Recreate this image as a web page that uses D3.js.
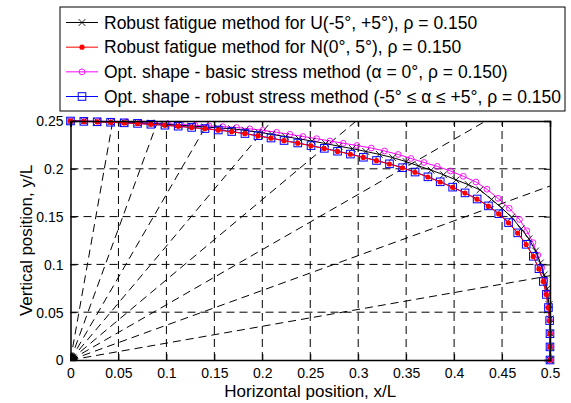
<!DOCTYPE html>
<html>
<head>
<meta charset="utf-8">
<script src="https://cdn.jsdelivr.net/npm/d3@7"></script>
<style>
  html, body { margin: 0; padding: 0; background: #fff; }
  svg { display: block; }
  text { font-family: "Liberation Sans", Arial, Helvetica, sans-serif; fill: #000; }
</style>
</head>
<body>
<svg id="chart" width="571" height="403"></svg>
<script>
// Tick values and labels
const xTicks = [0, 0.05, 0.1, 0.15, 0.2, 0.25, 0.3, 0.35, 0.4, 0.45, 0.5];
const xTickLabels = ["0", "0.05", "0.1", "0.15", "0.2", "0.25", "0.3", "0.35", "0.4", "0.45", "0.5"];
const yTicks = [0, 0.05, 0.1, 0.15, 0.2, 0.25];
const yTickLabels = ["0", "0.05", "0.1", "0.15", "0.2", "0.25"];

// Reference rays from the origin (degrees)
const rayAngles = [10, 20, 30, 40, 50, 60, 70, 80];

// Series names
const seriesNames = [
  "Robust fatigue method for U(-5\u00B0, +5\u00B0), \u03C1 = 0.150",
  "Robust fatigue method for N(0\u00B0, 5\u00B0), \u03C1 = 0.150",
  "Opt. shape - basic stress method (\u03B1 = 0\u00B0, \u03C1 = 0.150)",
  "Opt. shape - robust stress method (-5\u00B0 \u2264 \u03B1 \u2264 +5\u00B0, \u03C1 = 0.150"
];

// Robust fatigue method, uniform angle distribution  [x/L, y/L]
const robustFatigueU = [
  [0.000,0.2500],[0.014,0.2498],[0.028,0.2495],[0.042,0.2491],[0.056,0.2486],[0.070,0.2481],
  [0.084,0.2474],[0.098,0.2466],[0.112,0.2457],[0.126,0.2448],[0.140,0.2438],[0.154,0.2428],
  [0.168,0.2419],[0.182,0.2402],[0.196,0.2383],[0.210,0.2361],[0.224,0.2337],[0.238,0.2314],
  [0.252,0.2290],[0.266,0.2264],[0.280,0.2236],[0.294,0.2211],[0.308,0.2181],[0.322,0.2151],
  [0.336,0.2117],[0.350,0.2075],[0.363,0.2030],[0.376,0.1986],[0.389,0.1938],[0.402,0.1884],
  [0.415,0.1833],[0.427,0.1780],[0.439,0.1680],[0.450,0.1587],[0.460,0.1494],[0.470,0.1372],
  [0.478,0.1268],[0.485,0.1140],[0.490,0.1016],[0.494,0.0890],[0.497,0.0746],[0.499,0.0580],
  [0.500,0.0430],[0.500,0.0280],[0.500,0.0140],[0.500,0.0000]
];

// Robust fatigue method, normal angle distribution
const robustFatigueN = [
  [0.0000,0.2500],[0.0139,0.2495],[0.0278,0.2491],[0.0418,0.2486],[0.0559,0.2480],[0.0699,0.2473],
  [0.0838,0.2465],[0.0984,0.2455],[0.1123,0.2444],[0.1262,0.2431],[0.1401,0.2419],[0.1540,0.2404],
  [0.1680,0.2388],[0.1818,0.2367],[0.1954,0.2344],[0.2090,0.2320],[0.2226,0.2294],[0.2369,0.2268],
  [0.2507,0.2241],[0.2646,0.2212],[0.2784,0.2182],[0.2918,0.2152],[0.3053,0.2119],[0.3190,0.2085],
  [0.3325,0.2050],[0.3462,0.2010],[0.3592,0.1964],[0.3726,0.1914],[0.3854,0.1862],[0.3984,0.1806],
  [0.4113,0.1746],[0.4239,0.1682],[0.4357,0.1610],[0.4465,0.1528],[0.4567,0.1435],[0.4662,0.1328],
  [0.4751,0.1208],[0.4825,0.1083],[0.4884,0.0953],[0.4929,0.0820],[0.4961,0.0684],[0.4983,0.0547],
  [0.4995,0.0410],[0.5000,0.0274],[0.5000,0.0137],[0.5000,0.0000]
];

// Optimal shape, basic stress method
const basicStress = [
  [0.0000,0.2500],[0.0147,0.2499],[0.0291,0.2497],[0.0435,0.2494],[0.0579,0.2490],[0.0723,0.2484],
  [0.0867,0.2478],[0.1011,0.2471],[0.1155,0.2463],[0.1299,0.2456],[0.1443,0.2448],[0.1587,0.2441],
  [0.1732,0.2432],[0.1870,0.2418],[0.2003,0.2403],[0.2149,0.2382],[0.2288,0.2361],[0.2423,0.2338],
  [0.2566,0.2315],[0.2705,0.2291],[0.2844,0.2267],[0.2987,0.2244],[0.3136,0.2217],[0.3274,0.2186],
  [0.3417,0.2150],[0.3550,0.2108],[0.3686,0.2066],[0.3824,0.2025],[0.3962,0.1977],[0.4096,0.1922],
  [0.4228,0.1862],[0.4343,0.1786],[0.4458,0.1691],[0.4575,0.1587],[0.4682,0.1470],[0.4758,0.1352],
  [0.4822,0.1228],[0.4873,0.1098],[0.4913,0.0965],[0.4945,0.0829],[0.4968,0.0692],[0.4985,0.0554],
  [0.4995,0.0416],[0.5000,0.0277],[0.5000,0.0139],[0.5000,0.0000]
];

// Optimal shape, robust stress method
const robustStress = [
  [0.0000,0.2500],[0.0139,0.2496],[0.0278,0.2492],[0.0418,0.2487],[0.0560,0.2481],[0.0699,0.2475],
  [0.0838,0.2466],[0.0985,0.2456],[0.1123,0.2446],[0.1263,0.2433],[0.1402,0.2421],[0.1541,0.2406],
  [0.1681,0.2390],[0.1819,0.2369],[0.1955,0.2346],[0.2091,0.2322],[0.2227,0.2296],[0.2370,0.2270],
  [0.2508,0.2243],[0.2647,0.2214],[0.2785,0.2184],[0.2919,0.2154],[0.3054,0.2121],[0.3191,0.2087],
  [0.3326,0.2052],[0.3463,0.2012],[0.3593,0.1966],[0.3727,0.1916],[0.3855,0.1864],[0.3985,0.1808],
  [0.4114,0.1748],[0.4240,0.1684],[0.4358,0.1612],[0.4466,0.1530],[0.4568,0.1437],[0.4663,0.1330],
  [0.4752,0.1210],[0.4826,0.1085],[0.4885,0.0955],[0.4930,0.0822],[0.4962,0.0686],[0.4984,0.0549],
  [0.4996,0.0412],[0.5000,0.0275],[0.5000,0.0137],[0.5000,0.0000]
];

const svg = d3.select("#chart");
svg.append("rect").attr("width", 571).attr("height", 403).attr("fill", "#fff");

const plot = { left: 70.5, right: 550, top: 121, bottom: 360 };
const x = d3.scaleLinear().domain([0, 0.5]).range([plot.left, plot.right]);
const y = d3.scaleLinear().domain([0, 0.25]).range([plot.bottom, plot.top]);

svg.append("defs").append("clipPath").attr("id", "plotClip")
  .append("rect")
  .attr("x", plot.left).attr("y", plot.top)
  .attr("width", plot.right - plot.left).attr("height", plot.bottom - plot.top);

const dash = "8,5";

// Grid
const grid = svg.append("g").attr("stroke", "#000").attr("stroke-width", 1)
  .attr("stroke-dasharray", dash).attr("fill", "none");
grid.selectAll("line.gx").data(xTicks.slice(1, -1)).join("line")
  .attr("x1", d => x(d)).attr("x2", d => x(d))
  .attr("y1", plot.bottom).attr("y2", plot.top);
grid.selectAll("line.gy").data(yTicks.slice(1, -1)).join("line")
  .attr("x1", plot.left).attr("x2", plot.right)
  .attr("y1", d => y(d)).attr("y2", d => y(d));

// Rays from the origin, clipped to the axes box
const rays = svg.append("g").attr("clip-path", "url(#plotClip)")
  .attr("stroke", "#000").attr("stroke-width", 1).attr("stroke-dasharray", dash);
rays.selectAll("line").data(rayAngles).join("line")
  .attr("x1", x(0)).attr("y1", y(0))
  .attr("x2", d => x(Math.cos(d * Math.PI / 180)))
  .attr("y2", d => y(Math.sin(d * Math.PI / 180)));

// Origin marker
svg.append("circle").attr("clip-path", "url(#plotClip)")
  .attr("cx", x(0)).attr("cy", y(0)).attr("r", 7).attr("fill", "#000");

// Series
const line = d3.line().x(d => x(d[0])).y(d => y(d[1]));
const curves = svg.append("g").attr("fill", "none");

function crossPath(px, py, s) {
  return `M${px - s},${py - s}L${px + s},${py + s}M${px - s},${py + s}L${px + s},${py - s}`;
}

function drawMarkers(g, data, kind, color) {
  if (kind === "x") {
    g.selectAll("path.m").data(data).join("path").attr("class", "m")
      .attr("d", d => crossPath(x(d[0]), y(d[1]), 3.4))
      .attr("stroke", color).attr("stroke-width", 0.9);
  } else if (kind === "dot") {
    g.selectAll("circle.m").data(data).join("circle").attr("class", "m")
      .attr("cx", d => x(d[0])).attr("cy", d => y(d[1])).attr("r", 2.6)
      .attr("fill", color);
  } else if (kind === "o") {
    g.selectAll("circle.m").data(data).join("circle").attr("class", "m")
      .attr("cx", d => x(d[0])).attr("cy", d => y(d[1])).attr("r", 2.9)
      .attr("fill", "none").attr("stroke", color).attr("stroke-width", 0.9);
  } else if (kind === "s") {
    g.selectAll("rect.m").data(data).join("rect").attr("class", "m")
      .attr("x", d => x(d[0]) - 3.8).attr("y", d => y(d[1]) - 3.8)
      .attr("width", 7.6).attr("height", 7.6)
      .attr("fill", "none").attr("stroke", color).attr("stroke-width", 1);
  }
}

const series = [
  { data: basicStress, color: "#ff00ff", kind: "o" },
  { data: robustFatigueU, color: "#000000", kind: "x" },
  { data: robustStress, color: "#0000ff", kind: "s" },
  { data: robustFatigueN, color: "#ff0000", kind: "dot" }
];
series.forEach(s => {
  const g = curves.append("g");
  g.append("path").attr("d", line(s.data)).attr("stroke", s.color).attr("stroke-width", 1);
  drawMarkers(g, s.data, s.kind, s.color);
});

// Axes box with inward ticks
const axes = svg.append("g");
const bottomAxis = d3.axisBottom(x).tickValues(xTicks).tickSize(-6).tickFormat((d, i) => xTickLabels[i]);
const topAxis = d3.axisTop(x).tickValues(xTicks).tickSize(-6).tickFormat("");
const leftAxis = d3.axisLeft(y).tickValues(yTicks).tickSize(-6).tickFormat((d, i) => yTickLabels[i]);
const rightAxis = d3.axisRight(y).tickValues(yTicks).tickSize(-6).tickFormat("");

const gb = axes.append("g").attr("transform", `translate(0,${plot.bottom})`).call(bottomAxis);
const gt = axes.append("g").attr("transform", `translate(0,${plot.top})`).call(topAxis);
const gl = axes.append("g").attr("transform", `translate(${plot.left},0)`).call(leftAxis);
const gr = axes.append("g").attr("transform", `translate(${plot.right},0)`).call(rightAxis);

[gb, gt, gl, gr].forEach(g => {
  g.select(".domain").attr("stroke", "#000").attr("stroke-width", 1.5);
  g.selectAll(".tick line").attr("stroke", "#000").attr("stroke-width", 1);
});
gb.selectAll(".tick text")
  .attr("y", 18).attr("dy", 0)
  .style("font-family", "Liberation Sans, Arial, sans-serif").style("font-size", "14px").attr("fill", "#000");
gl.selectAll(".tick text")
  .attr("x", -7).attr("dy", "0.35em")
  .style("font-family", "Liberation Sans, Arial, sans-serif").style("font-size", "14px").attr("fill", "#000");

// Axis titles
svg.append("text")
  .attr("x", (plot.left + plot.right) / 2).attr("y", 397)
  .attr("text-anchor", "middle").style("font-size", "17px")
  .text("Horizontal position, x/L");
svg.append("text")
  .attr("transform", `translate(31.5,${(plot.top + plot.bottom) / 2}) rotate(-90)`)
  .attr("text-anchor", "middle").style("font-size", "17px")
  .text("Vertical position, y/L");

// Legend
const legend = svg.append("g");
const lg = { left: 60, top: 7, right: 565, bottom: 111 };
legend.append("rect")
  .attr("x", lg.left).attr("y", lg.top)
  .attr("width", lg.right - lg.left).attr("height", lg.bottom - lg.top)
  .attr("fill", "#fff").attr("stroke", "#000").attr("stroke-width", 1);

const legendItems = [
  { name: seriesNames[0], color: "#000000", kind: "x" },
  { name: seriesNames[1], color: "#ff0000", kind: "dot" },
  { name: seriesNames[2], color: "#ff00ff", kind: "o" },
  { name: seriesNames[3], color: "#0000ff", kind: "s" }
];
const rowY = d3.scaleLinear().domain([0, 3]).range([22.5, 96.5]);
legendItems.forEach((it, i) => {
  const cy = rowY(i);
  const g = legend.append("g");
  g.append("line").attr("x1", 66).attr("x2", 98).attr("y1", cy).attr("y2", cy)
    .attr("stroke", it.color).attr("stroke-width", 1);
  const mx = 82;
  if (it.kind === "x") {
    g.append("path").attr("d", crossPath(mx, cy, 3.4)).attr("stroke", it.color).attr("stroke-width", 0.9);
  } else if (it.kind === "dot") {
    g.append("circle").attr("cx", mx).attr("cy", cy).attr("r", 2.6).attr("fill", it.color);
  } else if (it.kind === "o") {
    g.append("circle").attr("cx", mx).attr("cy", cy).attr("r", 2.9)
      .attr("fill", "none").attr("stroke", it.color).attr("stroke-width", 0.9);
  } else {
    g.append("rect").attr("x", mx - 3.8).attr("y", cy - 3.8).attr("width", 7.6).attr("height", 7.6)
      .attr("fill", "none").attr("stroke", it.color).attr("stroke-width", 1);
  }
  g.append("text").attr("x", 104).attr("y", cy + 6)
    .style("font-size", "17.5px").text(it.name);
});
</script>
</body>
</html>
